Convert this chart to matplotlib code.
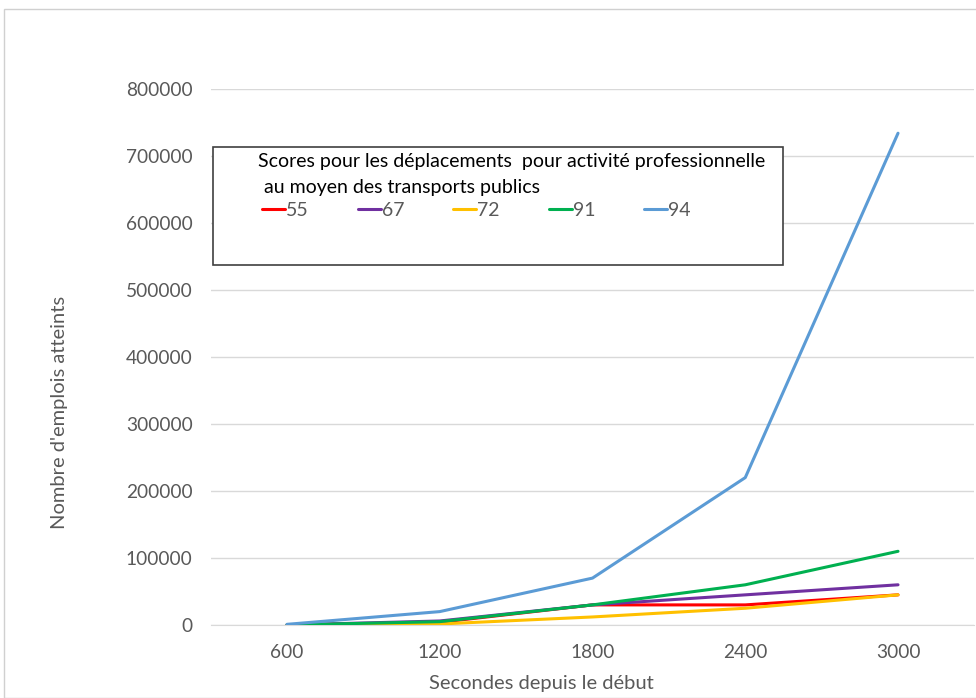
import matplotlib
matplotlib.use('Agg')
from matplotlib import pyplot as plt
from matplotlib.patches import Rectangle

###data
secondes=['600','1200','1800','2400','3000']
scores=['55','67','72','91','94']
s55=[0,4000,30000,30000,45000]
s67=[0,6000,30000,45000,60000]
s72=[0,1500,12000,25000,45000]
s91=[0,5000,30000,60000,110000]
s94=[1000,20000,70000,220000,734000]
colorID=['#FF0000','#7030A0','#FFC000','#00B050','#5B9BD5']

plt.rcParams['font.family']=['Lato','DejaVu Sans']
grey='#595959'

fig=plt.figure(figsize=(9.76,6.98),dpi=100)
###light frame around the chart
fig.patches.append(Rectangle((4/976,0),1.2,1-9/698,transform=fig.transFigure,
	fill=False,edgecolor='#d0d0d0',lw=1))

ax=fig.add_axes([210.6/976,1-625/698,763.8/976,536/698])
x=list(range(len(secondes)))
lines=[]
for d,c,lab in zip([s55,s67,s72,s91,s94],colorID,scores):
	l,=ax.plot(x,d,color=c,lw=2.2,label=lab,solid_capstyle='round',zorder=3)
	lines.append(l)

ax.set_xlim(-0.5,4.5)
ax.set_ylim(0,800000)
ax.set_yticks(range(0,800001,100000))
ax.set_xticks(x)
ax.set_xticklabels(secondes)
ax.grid(axis='y',color='#d9d9d9',lw=1)
ax.set_axisbelow(True)
for sp in ['top','right','left']:
	ax.spines[sp].set_visible(False)
ax.spines['bottom'].set_color('#d9d9d9')
ax.tick_params(axis='both',length=0,colors=grey,labelsize=13.8)
ax.tick_params(axis='y',pad=13)
ax.tick_params(axis='x',pad=14)

fig.text(60/976,1-412/698,"Nombre d'emplois atteints",rotation=90,ha='center',va='center',
	color=grey,fontsize=14.5)
fig.text(541/976,1-683/698,'Secondes depuis le début',ha='center',va='center',
	color=grey,fontsize=14.5)

###legend box
fig.patches.append(Rectangle((213/976,1-265/698),570/976,118/698,transform=fig.transFigure,
	facecolor='white',edgecolor='#404040',lw=1.2,zorder=5))
fig.text(258/976,1-162/698,'Scores pour les déplacements  pour activité professionnelle',
	ha='left',va='center',fontsize=14,color='black',zorder=6)
fig.text(264/976,1-187/698,'au moyen des transports publics',
	ha='left',va='center',fontsize=14,color='black',zorder=6)
leg=fig.legend(handles=lines,ncol=5,loc='center left',bbox_to_anchor=(262/976,1-210/698),
	frameon=False,handlelength=1.2,handletextpad=0.05,columnspacing=2.5,fontsize=14,
	borderaxespad=0,borderpad=0)
leg.set_zorder(7)
for t in leg.get_texts():
	t.set_color(grey)

plt.savefig('out.png',dpi=100)
plt.close()
